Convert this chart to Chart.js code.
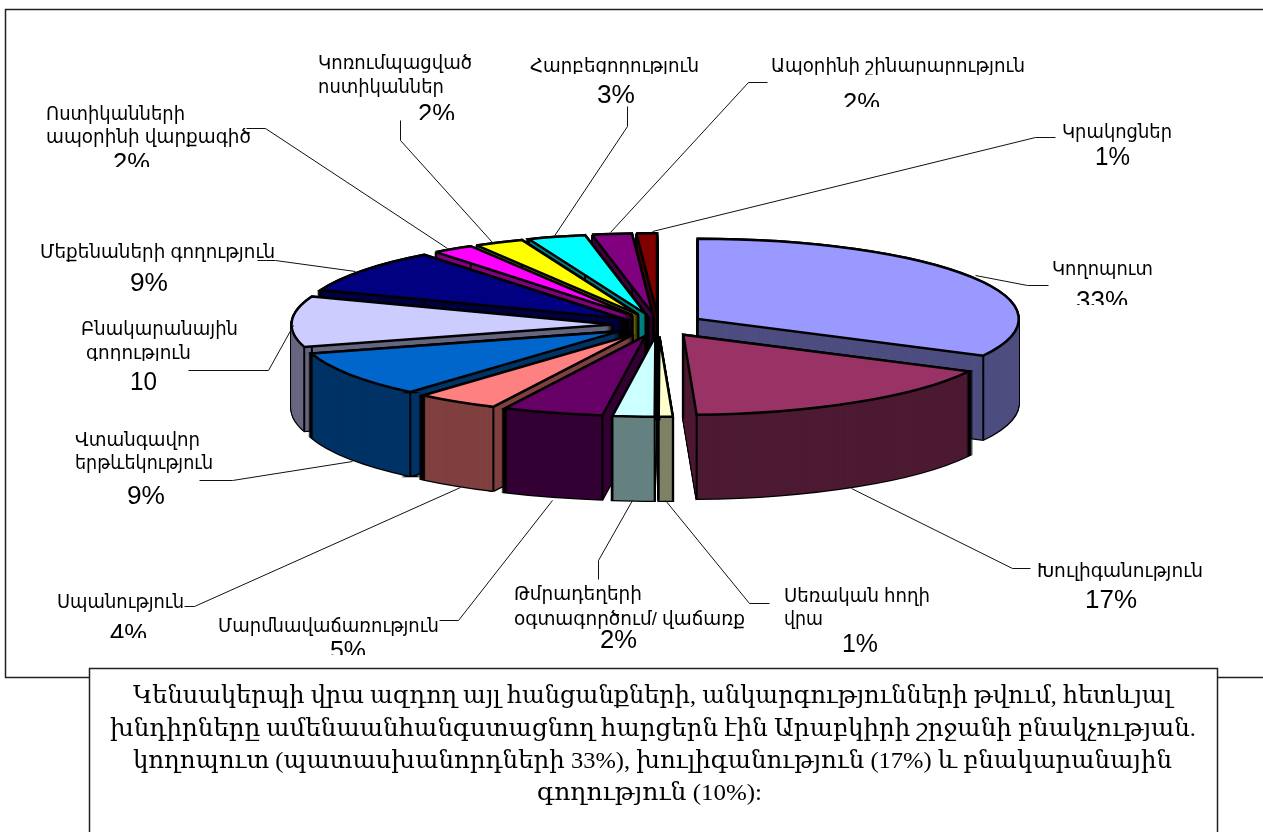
<!DOCTYPE html>
<html lang="hy"><head><meta charset="utf-8">
<style>html,body{margin:0;padding:0;background:#fff;overflow:hidden}canvas{display:block}#w{width:1263px;height:832px;position:relative}</style>
<script src="https://cdn.jsdelivr.net/npm/chart.js@4"></script>
</head><body><div id="w"><canvas id="c"></canvas></div>
<script>
const categories=["Կողոպուտ","Խուլիգանություն","Սեռական հողի վրա","Թմրադեղերի օգտագործում/ վաճառք","Մարմնավաճառություն","Սպանություն","Վտանգավոր երթևեկություն","Բնակարանային գողություն","Մեքենաների գողություն","Ոստիկանների ապօրինի վարքագիծ","Կոռումպացված ոստիկաններ","Հարբեցողություն","Ապօրինի շինարարություն","Կրակոցներ"];
const values=[32.6,16.8,0.7,2.1,5.05,4.15,9.2,10.2,8.8,2.1,2.5,2.9,2,1.03];
const topColors=["#9999FF","#993366","#FFFFCC","#CCFFFF","#660066","#FF8080","#0066CC","#CCCCFF","#000080","#FF00FF","#FFFF00","#00FFFF","#800080","#800000"];
const sideColors=["#4D4D80","#4D1A33","#808066","#668080","#330033","#804040","#003366","#666680","#000040","#800080","#808000","#008080","#400040","#400000"];
const captionLines=["Կենսակերպի վրա ազդող այլ հանցանքների, անկարգությունների թվում, հետևյալ","խնդիրները ամենաանհանգստացնող հարցերն էին Արաբկիրի շրջանի բնակչության.","կողոպուտ (պատասխանորդների 33%), խուլիգանություն (17%) և բնակարանային","գողություն (10%):"];

const VIEW={squash:0.25,depth:84,explode:46,radius:321};
const SANS='"Liberation Sans","DejaVu Sans",sans-serif';
const SERIF='"Liberation Serif","DejaVu Serif",serif';
const labelLayout=[
 {lines:[["Կրակոցներ",1062,1172,138],["1%",1095,1130,165,1]],lead:[[1055,137],[1035,137],[652,231]]},
 {lines:[["Կողոպուտ",1052,1153,275],["33%",1076,1128,309,1]],clip:305,lead:[[1048,285],[1027,285],[975,275]]},
 {lines:[["Խուլիգանություն",1037,1203,577],["17%",1085,1137,608,1]],lead:[[1030,568],[1012,568],[851,488]]},
 {lines:[["Սեռական հողի",784,930,602],["վրա",784,823,625],["1%",842,878,652,1]],lead:[[769,603],[749,603],[665,500]]},
 {lines:[["Թմրադեղերի",514,642,600],["օգտագործում/ վաճառք",514,745,625],["2%",600,637,648,1]],lead:[[598,579],[598,560],[632,500]]},
 {lines:[["Մարմնավաճառություն",218,439,632],["5%",330,366,659,1]],clip:655,lead:[[439,620],[458,620],[552,500]]},
 {lines:[["Սպանություն",57,184,608],["4%",110,147,642,1]],clip:638,lead:[[184,606],[194,606],[460,487]]},
 {lines:[["Վտանգավոր",75,200,446],["երթևեկություն",75,213,469],["9%",127,165,504,1]],lead:[[199,480],[232,480],[352,461]]},
 {lines:[["Բնակարանային",81,238,335],["գողություն",86,191,359]],clip:361,lead:[[188,370],[268,370],[293,325]]},
 {lines:[["10",130,157,390,1]],lead:[]},
 {lines:[["Մեքենաների գողություն",40,275,258],["9%",130,168,291,1]],lead:[[257,260],[275,260],[355,271]]},
 {lines:[["Ոստիկանների",46,185,120],["ապօրինի վարքագիծ",46,251,143],["2%",113,150,171,1]],clip:167,lead:[[246,128],[265,128],[447,248]]},
 {lines:[["Կոռումպացված",318,472,69],["ոստիկաններ",318,444,93],["2%",418,455,122,1]],clip:120,lead:[[400,120],[400,140],[492,242]]},
 {lines:[["Հարբեցողություն",530,699,72]],clip:74,lead:[]},
 {lines:[["3%",597,635,103,1]],lead:[[627,106],[627,126],[553,237]]},
 {lines:[["Ապօրինի շինարարություն",771,1025,72]],clip:75,lead:[[767,82],[748,82],[610,232]]},
 {lines:[["2%",843,880,111,1]],clip:107,lead:[]}
];
const captionLayout=[[133,1172,703],[110,1196,736],[133,1172,768],[537,762,800]];

function fitText(ctx,t,x0,x1,y,font){
  ctx.save();ctx.font=font;ctx.textAlign='left';ctx.textBaseline='alphabetic';
  const w=ctx.measureText(t).width;
  ctx.translate(x0,y);ctx.scale((x1-x0)/w,1);ctx.fillStyle='#000';ctx.fillText(t,0,0);ctx.restore();
}
const pie3d={id:'pie3d',
 beforeDatasetsDraw(chart){
  const ctx=chart.ctx,meta=chart.getDatasetMeta(0);
  const k=VIEW.squash,order=meta.data.map((a,i)=>i).sort((p,q)=>{
    const m=a=>(a.startAngle+a.endAngle)/2;return Math.sin(m(meta.data[p]))-Math.sin(m(meta.data[q]));});
  const origStroke=ctx.stroke;
  // keep the outline width even although the disc is squashed
  ctx.stroke=function(){const t=ctx.getTransform();ctx.setTransform(1,0,0,1,0,0);origStroke.call(ctx);ctx.setTransform(t);};
  const place=(arc,dz)=>{
    const h=(arc.startAngle+arc.endAngle)/2;
    ctx.translate(arc.x,arc.y+dz);ctx.scale(1,k);ctx.translate(-arc.x,-arc.y);
    ctx.translate(Math.cos(h)*VIEW.explode,Math.sin(h)*VIEW.explode);
  };
  for(const i of order){
    const arc=meta.data[i],o=arc.options;
    const h=(arc.startAngle+arc.endAngle)/2;
    arc.options=Object.assign({},o,{backgroundColor:'#000',borderColor:'#000'});
    for(let d=VIEW.depth;d>=0;d-=1){ctx.save();place(arc,d);arc.draw(ctx);ctx.restore();}
    arc.options=Object.assign({},o,{backgroundColor:sideColors[i],borderWidth:0});
    for(let d=VIEW.depth;d>=0;d-=1){ctx.save();place(arc,d);arc.draw(ctx);ctx.restore();}
    // vertical edges of the block
    const ex=Math.cos(h)*VIEW.explode,ey=Math.sin(h)*VIEW.explode;
    const pts=[[ex,ey],[ex+Math.cos(arc.startAngle)*arc.outerRadius,ey+Math.sin(arc.startAngle)*arc.outerRadius],[ex+Math.cos(arc.endAngle)*arc.outerRadius,ey+Math.sin(arc.endAngle)*arc.outerRadius]];
    ctx.save();ctx.strokeStyle='#000';ctx.lineWidth=2;
    for(const p of pts){ctx.beginPath();ctx.moveTo(arc.x+p[0],arc.y+p[1]*k);ctx.lineTo(arc.x+p[0],arc.y+p[1]*k+VIEW.depth);ctx.stroke();}
    ctx.restore();
    arc.options=o;
    ctx.save();place(arc,0);arc.draw(ctx);ctx.restore();
  }
  delete ctx.stroke;
  return false;
 },
 afterDraw(chart){
  const ctx=chart.ctx;
  ctx.save();
  ctx.strokeStyle='#111';ctx.lineWidth=1;
  for(const l of labelLayout){
    if(l.lead.length){ctx.beginPath();l.lead.forEach((p,i)=>i?ctx.lineTo(p[0]+.5,p[1]+.5):ctx.moveTo(p[0]+.5,p[1]+.5));ctx.stroke();}
    ctx.save();
    if(l.clip){ctx.beginPath();ctx.rect(0,0,1263,l.clip);ctx.clip();}
    for(const s of l.lines) fitText(ctx,s[0],s[1],s[2],s[3],s[4]?'26px '+SANS:'19px '+SANS);
    ctx.restore();
  }
  ctx.restore();
  // frame and caption box
  ctx.save();ctx.strokeStyle='#222';ctx.lineWidth=1.5;
  ctx.beginPath();ctx.moveTo(1263,9.5);ctx.lineTo(5.5,9.5);ctx.lineTo(5.5,677.5);ctx.lineTo(1263,677.5);ctx.stroke();
  ctx.fillStyle='#fff';ctx.fillRect(89,668,1128,170);
  ctx.beginPath();ctx.moveTo(89.5,840);ctx.lineTo(89.5,668.5);ctx.lineTo(1217.5,668.5);ctx.lineTo(1217.5,840);ctx.stroke();
  ctx.restore();
  captionLines.forEach((t,i)=>{const c=captionLayout[i];fitText(ctx,t,c[0],c[1],c[2],'24px '+SERIF);});
 }
};
new Chart(document.getElementById('c'),{
 type:'pie',
 data:{labels:categories,datasets:[{data:values,backgroundColor:topColors,borderColor:'#000',borderWidth:2.5,borderJoinStyle:'miter'}]},
 options:{responsive:true,maintainAspectRatio:false,animation:false,radius:VIEW.radius,
  layout:{padding:{left:54,bottom:182}},
  plugins:{legend:{display:false},tooltip:{enabled:false},title:{display:false}}},
 plugins:[pie3d]
});
</script></body></html>
